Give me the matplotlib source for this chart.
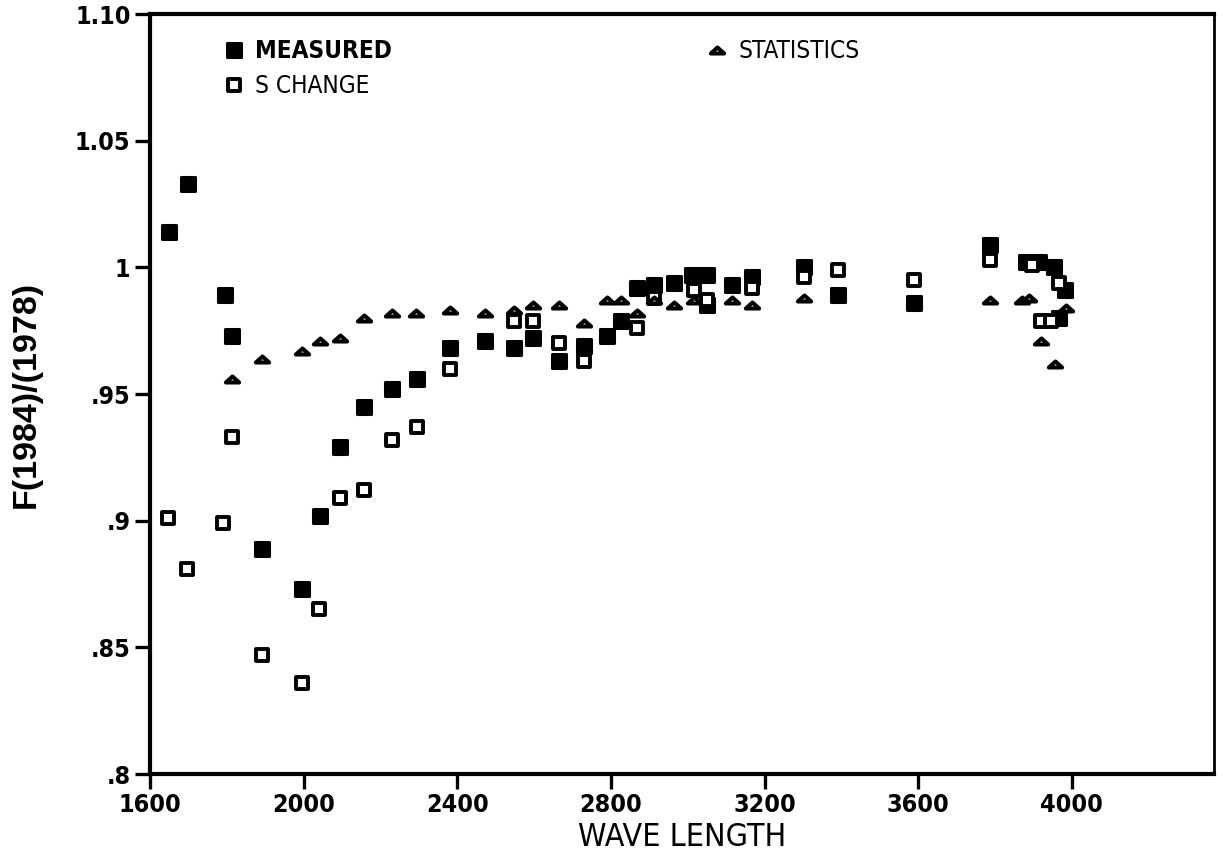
import numpy as np
import matplotlib
matplotlib.use("Agg")
import matplotlib.pyplot as plt
from matplotlib.path import Path
from matplotlib.markers import MarkerStyle

# values
measured_wl = [1650, 1700, 1795, 1813, 1892, 1995, 2043, 2095, 2156, 2230, 2295,
               2382, 2473, 2548, 2596, 2666, 2729, 2790, 2825, 2868, 2911, 2963,
               3011, 3050, 3050, 3115, 3168, 3302, 3392, 3589, 3786, 3880, 3915,
               3954, 3967, 3982]
measured_val = [1.014, 1.033, 0.989, 0.973, 0.889, 0.873, 0.902, 0.929, 0.945, 0.952, 0.956,
                0.968, 0.971, 0.968, 0.972, 0.963, 0.969, 0.973, 0.979, 0.992, 0.993, 0.994,
                0.997, 0.997, 0.985, 0.993, 0.996, 1.000, 0.989, 0.986, 1.009, 1.002, 1.002,
                1.000, 0.980, 0.991]

schange_wl = [1648, 1696, 1791, 1813, 1892, 1995, 2041, 2095, 2156, 2231, 2295,
              2382, 2548, 2596, 2666, 2729, 2868, 2911, 3016, 3050, 3168, 3302,
              3392, 3589, 3786, 3895, 3919, 3945, 3966]
schange_val = [0.901, 0.881, 0.899, 0.933, 0.847, 0.836, 0.865, 0.909, 0.912, 0.932, 0.937,
               0.960, 0.979, 0.979, 0.970, 0.963, 0.976, 0.988, 0.991, 0.987, 0.992, 0.996,
               0.999, 0.995, 1.003, 1.001, 0.979, 0.979, 0.994]

stats_wl = [1813, 1892, 1995, 2043, 2095, 2158, 2231, 2293, 2382, 2473, 2548,
            2596, 2666, 2729, 2790, 2825, 2868, 2911, 2963, 3016, 3115, 3168,
            3302, 3786, 3870, 3889, 3919, 3956, 3984]
stats_val = [0.956, 0.964, 0.967, 0.971, 0.972, 0.980, 0.982, 0.982, 0.983, 0.982, 0.983,
             0.985, 0.985, 0.978, 0.987, 0.987, 0.982, 0.987, 0.985, 0.987, 0.987, 0.985,
             0.988, 0.987, 0.987, 0.988, 0.971, 0.962, 0.984]

xticks = [1600, 2000, 2400, 2800, 3200, 3600, 4000]
yticks = [0.80, 0.85, 0.90, 0.95, 1.00, 1.05, 1.10]
ytick_labels = ['.8', '.85', '.9', '.95', '1', '1.05', '1.10']

cond = dict(family='DejaVu Sans', stretch='condensed')

# flat plotter-style triangle and rounded squares
tri = Path([(-1, -0.45), (1, -0.45), (0, 0.45), (-1, -0.45)],
           [Path.MOVETO, Path.LINETO, Path.LINETO, Path.CLOSEPOLY])
m_tri = MarkerStyle(tri, joinstyle='round')
m_sq = MarkerStyle('s', joinstyle='round')

fig = plt.figure(figsize=(12.23, 8.61), dpi=100)
ax = fig.add_axes([150/1223, 87/861, 1064/1223, 760/861])

l_meas, = ax.plot(measured_wl, measured_val, ls='none', marker=m_sq, ms=10,
                  mfc='black', mec='black', mew=2.2, zorder=3)
l_sch, = ax.plot(schange_wl, schange_val, ls='none', marker=m_sq, ms=8,
                 mfc='white', mec='black', mew=2.8, zorder=4)
l_sta, = ax.plot(stats_wl, stats_val, ls='none', marker=m_tri, ms=9.6,
                 mfc='white', mec='black', mew=2.9, zorder=5)

ax.set_xlim(1600, 4370)
ax.set_ylim(0.8, 1.10)
ax.set_xticks(xticks)
ax.set_xticklabels([str(t) for t in xticks], fontweight='bold', fontsize=18, **cond)
ax.set_yticks(yticks)
ax.set_yticklabels(ytick_labels, fontweight='bold', fontsize=18, **cond)
ax.tick_params(direction='out', length=11, width=2.4, pad=3)

for s in ax.spines.values():
    s.set_linewidth(3)
ax.spines['right'].set_linewidth(2)

ax.set_xlabel('WAVE LENGTH', fontsize=23, **cond)
ax.xaxis.set_label_coords(0.5, -0.063)
ax.xaxis.label.set_va('top')
ax.set_ylabel('F(1984)/(1978)', family=['Liberation Sans', 'DejaVu Sans'],
              fontweight='bold', fontsize=24.5)
ax.yaxis.set_label_coords(-0.1015, 0.5)

leg1 = ax.legend([l_meas, l_sch], ['MEASURED', 'S CHANGE'], loc='upper left',
                 bbox_to_anchor=(0.058, 0.983), frameon=False, borderpad=0,
                 handlelength=0.8, handletextpad=0.5, labelspacing=0.45,
                 prop=dict(size=17.5, **cond))
leg1.get_texts()[0].set_fontweight('bold')
ax.add_artist(leg1)
ax.legend([l_sta], ['STATISTICS'], loc='upper left', bbox_to_anchor=(0.512, 0.983),
          frameon=False, borderpad=0, handlelength=0.8, handletextpad=0.5,
          prop=dict(size=17.5, **cond))

fig.savefig('out.png', dpi=100)
